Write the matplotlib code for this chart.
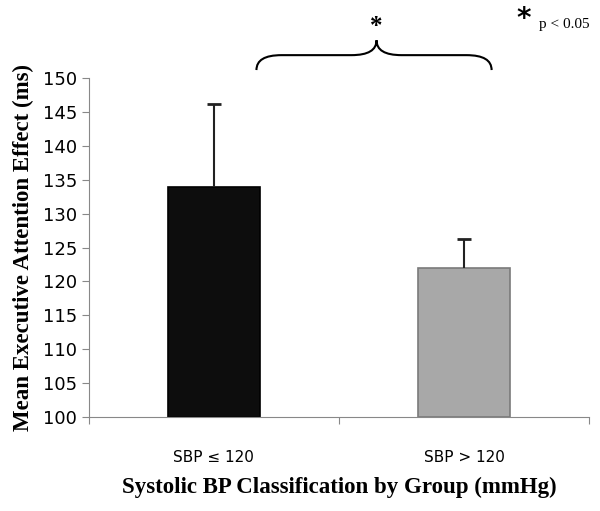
import matplotlib.pyplot as plt
from matplotlib.path import Path
import matplotlib.patches as patches

groups = ['SBP ≤ 120', 'SBP > 120']
means = [134.0, 122.0]
err_up = [12.2, 4.3]
bar_colors = ['#0d0d0d', '#a8a8a8']
edge_colors = ['#000000', '#7a7a7a']

fig = plt.figure(figsize=(6.0, 5.11), dpi=100)
ax = fig.add_axes([0.148, 0.184, 0.834, 0.663])

x = list(range(len(groups)))
ax.bar(x, [m - 100 for m in means], bottom=100, width=0.37,
       color=bar_colors, edgecolor=edge_colors, linewidth=1.2, zorder=2)
eb = ax.errorbar(x, means, yerr=[[0, 0], err_up], fmt='none', ecolor='#222222',
                 elinewidth=1.5, capsize=5, capthick=2, zorder=3)
eb[1][0].set_visible(False)  # no cap at the bar top

ax.set_xlim(-0.5, 1.5)
ax.set_ylim(100, 150)
ax.set_yticks(range(100, 151, 5))
ax.set_xticks([-0.5, 0.5, 1.5])
ax.set_xticklabels([])
ax.set_xticks(x, minor=True)
ax.set_xticklabels(groups, minor=True)
ax.tick_params(axis='x', which='minor', length=0, pad=24, labelsize=11)
ax.tick_params(axis='x', which='major', length=5, color='#888888')
ax.tick_params(axis='y', length=5, color='#888888', labelsize=13)
for s in ['top', 'right']:
    ax.spines[s].set_visible(False)
for s in ['left', 'bottom']:
    ax.spines[s].set_color('#888888')

ax.set_ylabel('Mean Executive Attention Effect (ms)', family='Liberation Serif',
              fontweight='bold', fontsize=16.5, labelpad=6)
ax.set_xlabel('Systolic BP Classification by Group (mmHg)', family='Liberation Serif',
              fontweight='bold', fontsize=16.5, labelpad=8)

# curly brace over the two groups
xl, xr, xm = 0.17, 1.11, 0.65
yb, yh, yt = 151.2, 153.4, 155.6
verts = [(xl, yb), (xl, yh), (xl + 0.1, yh),
         (xm - 0.1, yh),
         (xm, yh), (xm, yt),
         (xm, yh), (xm + 0.1, yh),
         (xr - 0.1, yh),
         (xr, yh), (xr, yb)]
codes = [Path.MOVETO, Path.CURVE3, Path.CURVE3,
         Path.LINETO,
         Path.CURVE3, Path.CURVE3,
         Path.CURVE3, Path.CURVE3,
         Path.LINETO,
         Path.CURVE3, Path.CURVE3]
ax.add_patch(patches.PathPatch(Path(verts, codes), facecolor='none',
                               edgecolor='black', linewidth=1.5, clip_on=False))
ax.text(xm, 157.6, '*', ha='center', va='center', fontsize=18, fontweight='bold',
        family='Liberation Serif', clip_on=False)

fig.text(0.873, 0.962, '*', ha='center', va='center', fontsize=20,
         fontweight='bold', family='DejaVu Sans')
fig.text(0.898, 0.952, 'p < 0.05', ha='left', va='center', fontsize=11,
         family='Liberation Serif')

fig.savefig('out.png', dpi=100)
